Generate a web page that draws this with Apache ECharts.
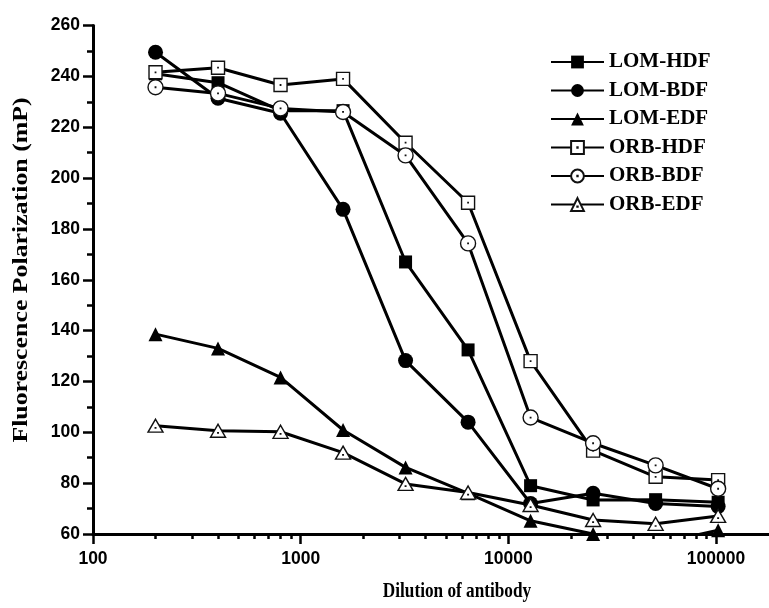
<!DOCTYPE html>
<html>
<head>
<meta charset="utf-8">
<script src="https://cdn.jsdelivr.net/npm/echarts@6/dist/echarts.min.js"></script>
<style>
html,body{margin:0;padding:0;background:#fff;}
#chart{width:769px;height:608px;}
</style>
</head>
<body>
<div id="chart"></div>
<script>
// ---- data ----
const dilutions = [200, 400, 800, 1600, 3200, 6400, 12800, 25600, 51200, 102400];
const lomHDF = [241, 237.5, 226.5, 226.5, 167, 132.4, 79, 73.4, 73.5, 72.5];
const lomBDF = [249.5, 231.4, 225.5, 187.7, 128.2, 104, 72, 76, 72, 70.8];
const lomEDF = [138.6, 133, 121.6, 100.9, 86.2, 76, 65.2, 60, 56, 61.5];
const orbHDF = [241.6, 243.4, 236.6, 239, 213.9, 190.3, 128, 92.8, 82.5, 81.2];
const orbBDF = [235.7, 233.3, 227.4, 226, 208.9, 174.3, 105.8, 95.7, 87, 77.8];
const orbEDF = [102.6, 100.6, 100.2, 92, 79.7, 76.3, 71.4, 65.5, 64, 67.1];
const seriesNames = ['LOM-HDF', 'LOM-BDF', 'LOM-EDF', 'ORB-HDF', 'ORB-BDF', 'ORB-EDF'];
const xMajorTicks = [100, 1000, 10000, 100000];
const xMinorTicks = [200, 300, 400, 500, 600, 700, 800, 900,
  2000, 3000, 4000, 5000, 6000, 7000, 8000, 9000,
  20000, 30000, 40000, 50000, 60000, 70000, 80000, 90000];
const xTitle = 'Dilution of antibody';
const yTitle = 'Fluorescence Polarization (mP)';

const SANS = 'Liberation Sans';
const SERIF = 'Liberation Serif';

// hollow symbols with a tiny centre dot (Origin style)
const HOLLOW_SQUARE = 'path://M0 0H20V20H0ZM9.7 9.7H10.3V10.3H9.7Z';
const HOLLOW_CIRCLE = 'path://M0 10A10 10 0 1 0 20 10A10 10 0 1 0 0 10ZM9.7 9.7H10.3V10.3H9.7Z';
const HOLLOW_TRI = 'path://M10 0L20 18H0ZM9.7 11.7H10.3V12.3H9.7Z';

function pairs(vals) { return dilutions.map((d, i) => [d, vals[i]]); }

function mkSeries(name, vals, symbol, size, hollow) {
  return {
    name: name, type: 'line', data: pairs(vals),
    xAxisIndex: 0, yAxisIndex: 0,
    symbol: symbol, symbolSize: size,
    lineStyle: { color: '#000', width: 3 },
    itemStyle: hollow ? { color: '#fff', borderColor: '#111', borderWidth: 1.4 }
                      : { color: '#000', borderColor: '#000', borderWidth: 0 },
    emphasis: { disabled: true },
    clip: true,
    animation: false
  };
}

const chart = echarts.init(document.getElementById('chart'), null, { renderer: 'canvas' });
const gridBox = { left: 93, right: 0, top: 25.5, bottom: 74, outerBoundsMode: 'none', containLabel: false };
chart.setOption({
  backgroundColor: '#fff',
  animation: false,
  grid: [Object.assign({}, gridBox), Object.assign({}, gridBox)],
  legend: {
    orient: 'vertical', left: 545, top: 46.5,
    itemWidth: 53, itemHeight: 16, itemGap: 7.5,
    textStyle: { fontFamily: SERIF, fontWeight: 'bold', fontSize: 21, color: '#000', lineHeight: 21 },
    data: seriesNames
  },
  graphic: [{
    type: 'text', x: 457, y: 592, scaleX: 0.82, scaleY: 1, silent: true,
    style: { text: xTitle, fontFamily: SERIF, fontWeight: 'bold', fontSize: 21, fill: '#000', align: 'center', verticalAlign: 'middle' }
  }, {
    type: 'text', x: 22, y: 270, rotation: Math.PI / 2, scaleX: 1.23, scaleY: 1, silent: true,
    style: { text: yTitle, fontFamily: SERIF, fontWeight: 'bold', fontSize: 21, fill: '#000', align: 'center', verticalAlign: 'middle' }
  }],
  xAxis: [{
    type: 'log', gridIndex: 0, min: 100, max: 180000, logBase: 10,
    axisLine: { show: true, lineStyle: { color: '#000', width: 3 } },
    axisTick: { show: true, length: 10, lineStyle: { color: '#000', width: 2.5 }, customValues: xMajorTicks },
    axisLabel: { show: true, margin: 16, fontFamily: SANS, fontWeight: 'bold', fontSize: 17.5, color: '#000', customValues: xMajorTicks,
      formatter: v => String(Math.round(v)) },
    splitLine: { show: false }, minorTick: { show: false }, minorSplitLine: { show: false }
  }, {
    type: 'log', gridIndex: 1, min: 100, max: 180000, logBase: 10,
    axisLine: { show: false },
    axisTick: { show: true, length: 5, lineStyle: { color: '#000', width: 2.5 }, customValues: xMinorTicks },
    axisLabel: { show: false },
    splitLine: { show: false }
  }],
  yAxis: [{
    type: 'value', gridIndex: 0, min: 60, max: 260, interval: 20,
    axisLine: { show: true, lineStyle: { color: '#000', width: 3 } },
    axisTick: { show: true, length: 10, lineStyle: { color: '#000', width: 2.5 } },
    minorTick: { show: true, splitNumber: 2, length: 6, lineStyle: { color: '#000', width: 2.5 } },
    axisLabel: { margin: 13, fontFamily: SANS, fontWeight: 'bold', fontSize: 17.5, color: '#000' },
    splitLine: { show: false }
  }, {
    type: 'value', gridIndex: 1, min: 60, max: 260, show: false
  }],
  series: [
    mkSeries('LOM-HDF', lomHDF, 'rect', 13, false),
    mkSeries('LOM-BDF', lomBDF, 'circle', 15, false),
    mkSeries('LOM-EDF', lomEDF, 'triangle', 14, false),
    mkSeries('ORB-HDF', orbHDF, HOLLOW_SQUARE, 13, true),
    mkSeries('ORB-BDF', orbBDF, HOLLOW_CIRCLE, 15, true),
    mkSeries('ORB-EDF', orbEDF, HOLLOW_TRI, [15, 13], true)
  ]
});
</script>
</body>
</html>
